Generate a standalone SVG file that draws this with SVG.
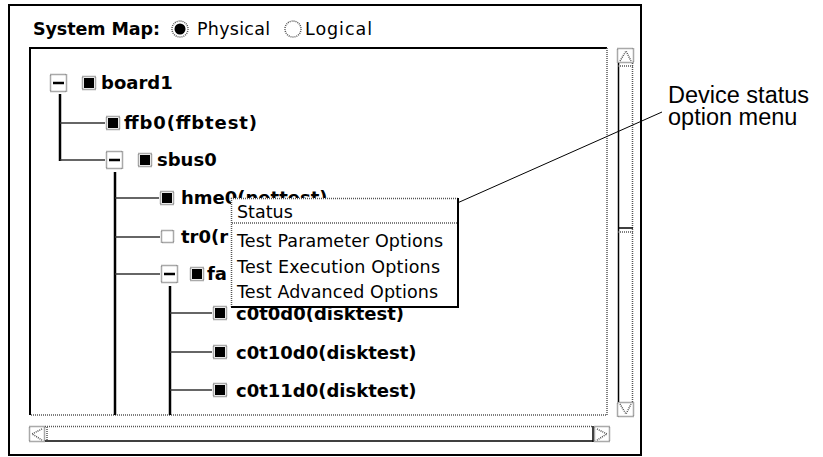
<svg xmlns="http://www.w3.org/2000/svg" width="823" height="457" viewBox="0 0 823 457">
<style>
.ui{font-family:"DejaVu Sans","Liberation Sans",sans-serif;fill:#000}
.b{font-weight:bold;font-size:18px}
.r{font-size:17.5px}
.call{font-family:"Liberation Sans",Arial,sans-serif;font-size:23.5px;fill:#000}
.dot{fill:none;stroke:#555;stroke-width:1.5;stroke-dasharray:1 1}
.solid{fill:none;stroke:#000;stroke-width:2}
.conn{fill:none;stroke:#333;stroke-width:1.5}
.vl{fill:none;stroke:#000;stroke-width:2.5}
</style>
<defs>
<g id="minus"><rect x="0.5" y="0.5" width="16" height="17" fill="#fff" class="dot"/><line x1="3" y1="9" x2="14" y2="9" stroke="#000" stroke-width="2.5"/></g>
<g id="icon"><rect x="0.5" y="0.5" width="13" height="13" fill="#fff" class="dot"/><rect x="2" y="2" width="10" height="10" fill="#000"/></g>
<g id="eicon"><rect x="0.5" y="0.5" width="12" height="12" fill="#fff" class="dot"/></g>
</defs>
<rect width="823" height="457" fill="#fff"/>
<rect x="9" y="5" width="632" height="450" class="solid"/>

<g id="header">
<text class="ui" font-weight="bold" font-size="17.5" x="33" y="35" textLength="127">System Map:</text>
<circle cx="180" cy="29" r="8" class="dot"/>
<circle cx="180" cy="29" r="5.5" fill="#000"/>
<text class="ui r" x="197" y="35" textLength="73">Physical</text>
<circle cx="293" cy="29" r="8" class="dot"/>
<text class="ui r" x="305" y="35" textLength="67">Logical</text>
</g>

<g id="panel">
<path d="M30,415 V48 H607" class="solid"/>
<path d="M607,48 V415 H30" class="dot" stroke-width="2"/>
</g>

<g id="vscroll">
<rect x="617.5" y="48.5" width="16" height="14" class="dot"/>
<path d="M620,61 L626,51 L631,61" class="dot"/>
<line x1="618.5" y1="63" x2="618.5" y2="402" stroke="#000" stroke-width="1.5"/>
<line x1="632.5" y1="63" x2="632.5" y2="402" class="dot"/>
<line x1="618" y1="228" x2="633" y2="228" stroke="#000" stroke-width="1.5"/>
<line x1="618" y1="66" x2="633" y2="66" class="dot"/>
<line x1="618" y1="232" x2="633" y2="232" class="dot"/>
<rect x="617.5" y="402.5" width="16" height="14" class="dot"/>
<path d="M620,404 L626,414 L631,404" class="dot"/>
</g>

<g id="hscroll">
<rect x="29.5" y="426.5" width="15" height="15" class="dot"/>
<path d="M42,429 L32,434 L42,440" class="dot"/>
<line x1="45" y1="426.5" x2="593" y2="426.5" class="dot"/>
<line x1="45" y1="441" x2="593" y2="441" stroke="#000" stroke-width="1.5"/>
<line x1="593" y1="426" x2="593" y2="442" stroke="#000" stroke-width="1.5"/>
<line x1="47" y1="427" x2="47" y2="441" class="dot"/>
<rect x="594.5" y="426.5" width="15" height="15" class="dot"/>
<path d="M597,429 L607,434 L597,440" class="dot"/>
</g>

<g id="connectors">
<line x1="60" y1="94" x2="60" y2="161" class="vl"/>
<line x1="60" y1="123" x2="105" y2="123" class="conn"/>
<line x1="60" y1="160" x2="105" y2="160" class="conn"/>
<line x1="115" y1="172" x2="115" y2="415" class="vl"/>
<line x1="115" y1="198" x2="159" y2="198" class="conn"/>
<line x1="115" y1="237" x2="160" y2="237" class="conn"/>
<line x1="115" y1="274" x2="160" y2="274" class="conn"/>
<line x1="170" y1="286" x2="170" y2="415" class="vl"/>
<line x1="170" y1="313" x2="212" y2="313" class="conn"/>
<line x1="170" y1="352" x2="212" y2="352" class="conn"/>
<line x1="170" y1="390" x2="212" y2="390" class="conn"/>
<line x1="662" y1="112" x2="437" y2="212" stroke="#000" stroke-width="1"/>
</g>

<g id="board1">
<use href="#minus" x="50" y="74"/>
<use href="#icon" x="82" y="76"/>
<text class="ui b" x="101" y="89">board1</text>
</g>
<g id="ffb0">
<use href="#icon" x="106" y="116"/>
<text class="ui b" x="124" y="129" textLength="133">ffb0(ffbtest)</text>
</g>
<g id="sbus0">
<use href="#minus" x="106" y="151"/>
<use href="#icon" x="138" y="153"/>
<text class="ui b" x="157" y="166">sbus0</text>
</g>
<g id="hme0">
<use href="#icon" x="160" y="191"/>
<text class="ui b" x="181" y="204">hme0(nettest)</text>
</g>
<g id="tr0">
<use href="#eicon" x="161" y="230"/>
<text class="ui b" x="181" y="243">tr0(r</text>
</g>
<g id="fa">
<use href="#minus" x="161" y="265"/>
<use href="#icon" x="190" y="267"/>
<text class="ui b" x="207" y="280">fa</text>
</g>
<g id="c0t0d0">
<use href="#icon" x="213" y="306"/>
<text class="ui b" x="236" y="320">c0t0d0(disktest)</text>
</g>
<g id="c0t10d0">
<use href="#icon" x="213" y="345"/>
<text class="ui b" x="236" y="359">c0t10d0(disktest)</text>
</g>
<g id="c0t11d0">
<use href="#icon" x="213" y="383"/>
<text class="ui b" x="236" y="397">c0t11d0(disktest)</text>
</g>

<g id="menu">
<rect x="231" y="198" width="227" height="109" fill="#fff"/>
<path d="M231.5,307 V198.5 H458" class="dot"/>
<path d="M458,198 V307 H231" class="solid"/>
<line x1="232" y1="223" x2="457" y2="223" class="dot"/>
<text class="ui r" x="237" y="218">Status</text>
<text class="ui r" x="237" y="247" textLength="206">Test Parameter Options</text>
<text class="ui r" x="237" y="273" textLength="203">Test Execution Options</text>
<text class="ui r" x="237" y="298" textLength="201">Test Advanced Options</text>
</g>

<g id="callout">
<text class="call" x="668" y="103">Device status</text>
<text class="call" x="668" y="125">option menu</text>
</g>
</svg>
